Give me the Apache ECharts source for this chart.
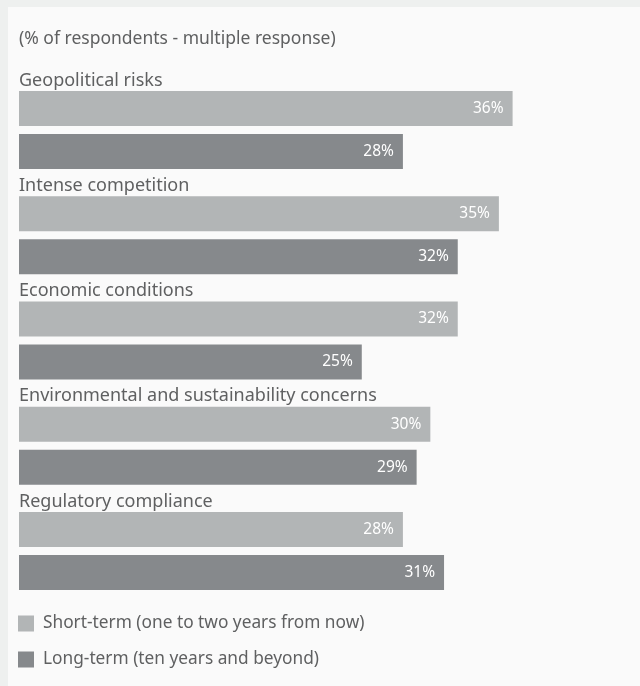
<!DOCTYPE html>
<html><head><meta charset="utf-8">
<script src="https://cdn.jsdelivr.net/npm/echarts@6/dist/echarts.min.js"></script>
<style>
html,body{margin:0;padding:0;background:#eef0ef;}
#c{position:absolute;left:8px;top:7px;width:632px;height:679px;background:#fafafa;}
</style></head><body>
<div id="c"></div>
<script>
const categories = ["Geopolitical risks","Intense competition","Economic conditions","Environmental and sustainability concerns","Regulatory compliance"];
const seriesNames = ["Short-term (one to two years from now)","Long-term (ten years and beyond)"];
const shortTerm = [36,35,32,30,28];
const longTerm = [28,32,25,29,31];
const subtitle = "(% of respondents - multiple response)";

const FONT = "'Noto Sans', sans-serif";
const TXT = '#5f6061';
const chart = echarts.init(document.getElementById('c'));
const valLabel = {show:true, position:'insideRight', distance:9, color:'#ffffff', fontSize:15.5, fontFamily:FONT, formatter: p => p.value + '%'};
chart.setOption({
  animation:false,
  title:{text:subtitle, left:11, top:23, padding:0, textStyle:{fontSize:17.5, fontWeight:'normal', color:TXT, fontFamily:FONT}},
  legend:{orient:'vertical', left:10, top:608, padding:0, itemWidth:16, itemHeight:16, itemGap:19, icon:'rect',
    textStyle:{fontSize:17.3, color:TXT, fontFamily:FONT, padding:[0,0,0,4]}, data:seriesNames},
  grid:{left:11, top:70.4, width:617, height:526.25, containLabel:false},
  xAxis:[{type:'value', min:0, max:45, show:false}],
  yAxis:[
    {type:'category', data:categories, inverse:true, show:false},
    {type:'category', data:categories, inverse:true, show:false}
  ],
  series:[
    {name:seriesNames[0], type:'bar', data:shortTerm, barWidth:35, barGap:'22.86%', itemStyle:{color:'#b2b5b6'}, label:valLabel},
    {name:seriesNames[1], type:'bar', data:longTerm, barWidth:35, itemStyle:{color:'#86898c'}, label:valLabel},
    {name:'labels', type:'bar', yAxisIndex:1, data:shortTerm, barWidth:35, silent:true,
      itemStyle:{color:'rgba(0,0,0,0)'},
      label:{show:true, position:[0,-32], align:'left', verticalAlign:'middle', fontSize:18, color:TXT, fontFamily:FONT,
        formatter: p => p.name}}
  ]
});
</script></body></html>
